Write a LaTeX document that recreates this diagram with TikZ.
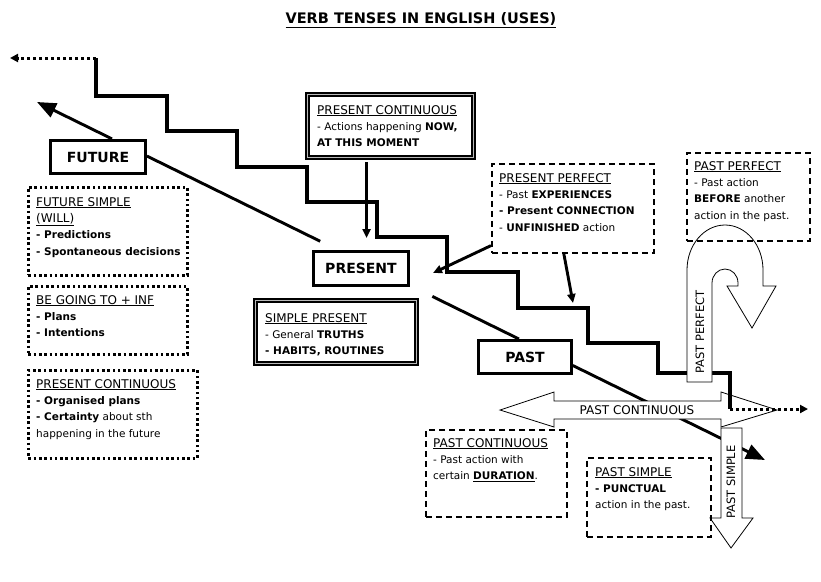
\documentclass[tikz,border=0pt]{standalone}
\usepackage{fontspec}
\setmainfont{DejaVu Sans}
\usetikzlibrary{arrows.meta, positioning, calc}

\newcommand{\tensehead}[1]{{\fontsize{12}{16.3}\selectfont\underline{#1}}}

\tikzset{
    stair/.style={line width=3.2pt},
    dotline/.style={line width=3pt, dash pattern=on 3pt off 3pt},
    timeline/.style={line width=2.9pt},
    bigtip/.style={-{Triangle[length=19pt,width=15pt]}},
    smalltip/.style={-{Triangle[length=9pt,width=8pt]}},
    dottip/.style={-{Triangle[length=8pt,width=8pt]}},
    tense/.style={draw, line width=3pt, fill=white, font=\fontsize{14}{16}\selectfont\bfseries},
    dotbox/.style={draw, line width=2.6pt, dash pattern=on 2.6pt off 2.7pt, anchor=north west},
    dashbox/.style={draw, line width=1.6pt, dash pattern=on 6pt off 4pt, anchor=north west},
    dblbox/.style={draw, line width=1.2pt, double=gray!55, double distance=1.8pt, fill=white},
    boxtext/.style={anchor=north west, inner sep=0pt, align=left, font=\fontsize{10.5}{16.3}\selectfont},
    blockarrow/.style={draw, line width=0.8pt, fill=white},
    arrowtext/.style={inner sep=0pt, font=\fontsize{11.5}{12}\selectfont},
}

\begin{document}
\begin{tikzpicture}[x=1pt, y=-1pt]
    \useasboundingbox (0,0) rectangle (821,581);

    \node[font=\fontsize{14.5}{17}\selectfont\bfseries] (title) at (421,20) {\underline{VERB TENSES IN ENGLISH (USES)}};

    % the time line
    \coordinate (fut tip) at (37,102);
    \coordinate (past tip) at (765,460);
    \draw[timeline, bigtip] ($(fut tip)!0.103!(past tip)$) -- (fut tip);
    \draw[timeline] ($(fut tip)!0.151!(past tip)$) -- ($(fut tip)!0.389!(past tip)$);
    \draw[timeline] ($(fut tip)!0.543!(past tip)$) -- ($(fut tip)!0.662!(past tip)$);
    \draw[timeline, bigtip] ($(fut tip)!0.736!(past tip)$) -- (past tip);

    % block arrows
    \draw[blockarrow] (500,410) -- (554,392) -- (554,401) -- (721,401) -- (721,392) -- (777,410)
        -- (721,427) -- (721,419) -- (554,419) -- (554,427) -- cycle;
    \node[arrowtext, font=\fontsize{12}{12}\selectfont] (pc label) at (637,410) {PAST CONTINUOUS};
    \draw[blockarrow] (721,428) -- (742,428) -- (742,518) -- (753,518) -- (731,548) -- (710,518) -- (721,518) -- cycle;
    \node[arrowtext, rotate=90] (ps label) at (731,482) {PAST SIMPLE};

    % the stairs
    \coordinate (stair top) at (96,58);
    \coordinate (stair end) at (730,409);
    \coordinate (left end) at (10,58);
    \coordinate (right end) at (808,409);
    \draw[stair] (stair top) foreach \x/\y in {167/96, 237/131, 307/167, 377/202, 447/237, 518/272, 588/308, 658/343, 730/373} { |- (\x,\y) } -- (stair end);
    \draw[dotline, dottip] (stair top) -- (left end);
    \draw[dotline, dottip] (stair end) -- (right end);

    % u-turn
    \draw[blockarrow] (687,382) -- (687,270) arc[start angle=180, end angle=0, x radius=38pt, y radius=45pt]
        -- (763,286) -- (776,286) -- (752,328) -- (727,286) -- (738,286) -- (738,283)
        arc[start angle=0, end angle=180, x radius=13pt, y radius=14pt] -- (712,382) -- cycle;
    \node[arrowtext, rotate=90] (pp label) at (700,332) {PAST PERFECT};

    % tenses
    \node[tense, minimum width=95, minimum height=33] (future) at (98,157) {FUTURE};
    \node[tense, minimum width=95, minimum height=34] (present) at (361,268.5) {PRESENT};
    \node[tense, minimum width=93, minimum height=33] (past) at (525,357) {PAST};

    % future uses
    \node[dotbox, minimum width=159, minimum height=88] (will) at (27,186) {};
    \node[boxtext] (will txt) at (36,197) {\tensehead{FUTURE SIMPLE}\\ \tensehead{(WILL)}\\ \textbf{- Predictions}\\ \textbf{- Spontaneous decisions}};
    \node[dotbox, minimum width=159, minimum height=68] (going) at (27,285) {};
    \node[boxtext] (going txt) at (36,295) {\tensehead{BE GOING TO + INF}\\ \textbf{- Plans}\\ \textbf{- Intentions}};
    \node[dotbox, minimum width=169, minimum height=88] (plans) at (27,369) {};
    \node[boxtext] (plans txt) at (36,379) {\tensehead{PRESENT CONTINUOUS}\\ \textbf{- Organised plans}\\ \textbf{- Certainty} about sth\\ happening in the future};

    % present uses
    \node[dblbox, minimum width=166, minimum height=63] (now) at (390.5,126) {};
    \node[boxtext] (now txt) at (317,105) {\tensehead{PRESENT CONTINUOUS}\\ - Actions happening \textbf{NOW,}\\ \textbf{AT THIS MOMENT}};
    \node[dblbox, minimum width=161, minimum height=63] (habits) at (336,332) {};
    \node[boxtext] (habits txt) at (265,313) {\tensehead{SIMPLE PRESENT}\\ - General \textbf{TRUTHS}\\ \textbf{- HABITS, ROUTINES}};
    \node[dashbox, minimum width=162, minimum height=89] (experience) at (491,163) {};
    \node[boxtext] (experience txt) at (499,173) {\tensehead{PRESENT PERFECT}\\ - Past \textbf{EXPERIENCES}\\ \textbf{- Present CONNECTION}\\ - \textbf{UNFINISHED} action};

    % past uses
    \node[dashbox, minimum width=123, minimum height=88] (before) at (686,152) {};
    \node[boxtext] (before txt) at (694,161) {\tensehead{PAST PERFECT}\\ - Past action\\ \textbf{BEFORE} another\\ action in the past.};
    \node[dashbox, minimum width=141, minimum height=87] (duration) at (425,429) {};
    \node[boxtext] (duration txt) at (433,438) {\tensehead{PAST CONTINUOUS}\\ - Past action with\\ certain \textbf{\underline{DURATION}}.};
    \node[dashbox, minimum width=124, minimum height=79] (punctual) at (586,457) {};
    \node[boxtext] (punctual txt) at (595,467) {\tensehead{PAST SIMPLE}\\ \textbf{- PUNCTUAL}\\ action in the past.};

    % pointers
    \coordinate (now foot) at ([xshift=-24pt]now.south);
    \draw[timeline, smalltip, shorten <=4pt, shorten >=12pt] (now foot) -- (now foot |- present.north);
    \coordinate (pp tip) at (433,273);
    \coordinate (pp tip2) at (573,303);
    \draw[timeline, smalltip] ([yshift=8pt]experience.south west) -- (pp tip);
    \draw[timeline, smalltip] ([xshift=-9pt]experience.south) -- (pp tip2);
\end{tikzpicture}
\end{document}
